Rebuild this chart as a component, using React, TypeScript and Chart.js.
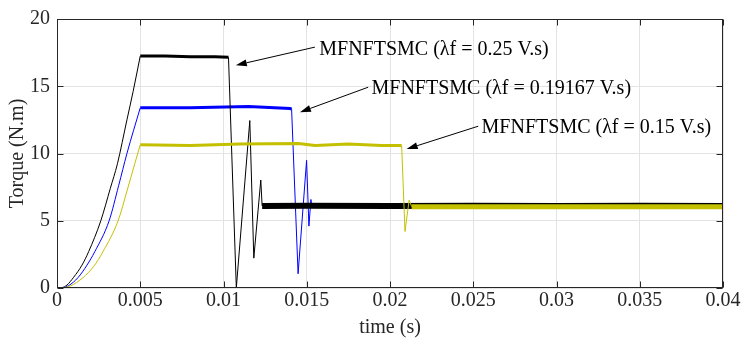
import React, { useEffect, useRef } from "react";
import { Chart, registerables } from "chart.js";

Chart.register(...registerables);

// ---- Data (time in s, torque in N.m) ----
const X_MIN = 0;
const X_MAX = 0.04;
const X_STEP = 0.005;
const Y_MIN = 0;
const Y_MAX = 20;
const Y_STEP = 5;

// start-up ramps (0 .. 0.005 s)
const BLACK_RAMP_T = [0, 0.0003, 0.0006, 0.001, 0.0015, 0.0019, 0.00263, 0.0032, 0.00363, 0.0042, 0.00457, 0.005];
const BLACK_RAMP_V = [0, 0.03, 0.22, 0.8, 1.7, 2.7, 5, 7.4, 9.24, 12.5, 14.6, 17.25];
const BLUE_RAMP_T = [0, 0.0003, 0.0007, 0.00126, 0.0018, 0.00227, 0.00313, 0.0037, 0.0042, 0.005];
const BLUE_RAMP_V = [0, 0.02, 0.18, 0.77, 1.7, 2.7, 5, 7.6, 10, 13.4];
const YELLOW_RAMP_T = [0, 0.0003, 0.0008, 0.00156, 0.0022, 0.00276, 0.00367, 0.0042, 0.00467, 0.005];
const YELLOW_RAMP_V = [0, 0.02, 0.15, 0.77, 1.6, 2.7, 5, 7.2, 9.24, 10.65];

// after the ramp (0.005 .. 0.04 s)
const BLACK_T = [0.005, 0.0065, 0.008, 0.0095, 0.0103, 0.01077, 0.01158, 0.01182, 0.01224, 0.01232, 0.015, 0.02, 0.025, 0.03, 0.035, 0.04];
const BLACK_V = [17.25, 17.25, 17.2, 17.2, 17.15, 0, 12.45, 2.22, 8.03, 6.1, 6.12, 6.1, 6.12, 6.1, 6.12, 6.1];
const BLUE_T = [0.005, 0.008, 0.0115, 0.014, 0.01409, 0.01448, 0.01499, 0.01513, 0.01525, 0.0153, 0.02, 0.03, 0.04];
const BLUE_V = [13.4, 13.4, 13.5, 13.35, 13.3, 1.06, 9.49, 4.6, 6.58, 6.1, 6.1, 6.1, 6.1];
const YELLOW_T = [0.005, 0.008, 0.011, 0.0145, 0.0155, 0.0175, 0.0195, 0.0207, 0.0209, 0.02115, 0.0213, 0.025, 0.03, 0.035, 0.04];
const YELLOW_V = [10.65, 10.6, 10.7, 10.75, 10.6, 10.7, 10.6, 10.6, 4.2, 6.53, 6.05, 6.05, 6.05, 6.05, 6.05];

const ANNOT_TEXT = [
  "MFNFTSMC (λf = 0.25 V.s)",
  "MFNFTSMC (λf = 0.19167 V.s)",
  "MFNFTSMC (λf = 0.15 V.s)",
];
const ANNOT_TEXT_AT: [number, number][] = [[0.01575, 17.72], [0.01889, 14.81], [0.0255, 11.91]];
const ARROW_TAIL: [number, number][] = [[0.01549, 17.91], [0.01869, 14.93], [0.0253, 12.03]];
const ARROW_TIP: [number, number][] = [[0.01074, 16.56], [0.01459, 13.07], [0.021, 10.33]];

// ---- Styles ----
const FONT = "'Liberation Serif', 'Times New Roman', serif";
const AXIS_COLOR = "#262626";
const GRID_COLOR = "#e3e3e3";
const BLACK = "#000000";
const BLUE = "#0000ff";
const YELLOW = "#c4c000";

const toPts = (t: number[], v: number[]) => t.map((x, i) => ({ x, y: v[i] }));

const segWidth = (highW: number, lowW: number) => (ctx: any) => {
  const p0 = ctx.p0.parsed;
  const p1 = ctx.p1.parsed;
  if (Math.abs(p1.y - p0.y) < 0.4) {
    return p0.y < 8 ? lowW : highW;
  }
  return 1;
};

const mainSet = (label: string, t: number[], v: number[], color: string, hi: number, lo: number) => ({
  label,
  data: toPts(t, v),
  borderColor: color,
  borderWidth: 1,
  pointRadius: 0,
  tension: 0,
  segment: { borderWidth: segWidth(hi, lo) },
});

const rampSet = (label: string, t: number[], v: number[], color: string) => ({
  label,
  data: toPts(t, v),
  borderColor: color,
  borderWidth: 1,
  pointRadius: 0,
  cubicInterpolationMode: "monotone",
});

const overlayPlugin = {
  id: "overlay",
  afterDraw(chart: any) {
    const { ctx, chartArea: a, scales } = chart;
    const xs = scales.x;
    const ys = scales.y;
    ctx.save();
    ctx.strokeStyle = AXIS_COLOR;
    ctx.lineWidth = 1;
    const L = Math.round(a.left) + 0.5;
    const R = Math.round(a.right) - 0.5;
    const T = Math.round(a.top) + 0.5;
    const B = Math.round(a.bottom) - 0.5;
    ctx.strokeRect(L, T, R - L, B - T);
    const TL = 6;
    ctx.beginPath();
    xs.ticks.forEach((tk: any) => {
      const px = Math.round(xs.getPixelForValue(tk.value)) + 0.5;
      ctx.moveTo(px, B);
      ctx.lineTo(px, B - TL);
      ctx.moveTo(px, T);
      ctx.lineTo(px, T + TL);
    });
    ys.ticks.forEach((tk: any) => {
      const py = Math.round(ys.getPixelForValue(tk.value)) + 0.5;
      ctx.moveTo(L, py);
      ctx.lineTo(L + TL, py);
      ctx.moveTo(R, py);
      ctx.lineTo(R - TL, py);
    });
    ctx.stroke();
    ctx.fillStyle = "#000";
    ctx.strokeStyle = "#000";
    ctx.font = `20px ${FONT}`;
    ctx.textBaseline = "middle";
    ctx.textAlign = "left";
    ANNOT_TEXT.forEach((txt, i) => {
      const tx = xs.getPixelForValue(ANNOT_TEXT_AT[i][0]);
      const ty = ys.getPixelForValue(ANNOT_TEXT_AT[i][1]);
      ctx.fillText(txt, tx, ty);
      const x0 = xs.getPixelForValue(ARROW_TAIL[i][0]);
      const y0 = ys.getPixelForValue(ARROW_TAIL[i][1]);
      const x1 = xs.getPixelForValue(ARROW_TIP[i][0]);
      const y1 = ys.getPixelForValue(ARROW_TIP[i][1]);
      const ang = Math.atan2(y1 - y0, x1 - x0);
      const hl = 11;
      const hw = 3.5;
      const bx = x1 - hl * Math.cos(ang);
      const by = y1 - hl * Math.sin(ang);
      ctx.lineWidth = 1;
      ctx.beginPath();
      ctx.moveTo(x0, y0);
      ctx.lineTo(bx, by);
      ctx.stroke();
      ctx.beginPath();
      ctx.moveTo(x1, y1);
      ctx.lineTo(bx + hw * Math.sin(ang), by - hw * Math.cos(ang));
      ctx.lineTo(bx - hw * Math.sin(ang), by + hw * Math.cos(ang));
      ctx.closePath();
      ctx.fill();
    });
    ctx.restore();
  },
};

export default function App() {
  const ref = useRef<HTMLCanvasElement | null>(null);

  useEffect(() => {
    if (!ref.current) return;
    const chart = new Chart(ref.current, {
      type: "line",
      data: {
        datasets: [
          mainSet("λf = 0.15 V.s", YELLOW_T, YELLOW_V, YELLOW, 3, 5),
          mainSet("λf = 0.25 V.s", BLACK_T, BLACK_V, BLACK, 3, 6),
          mainSet("λf = 0.19167 V.s", BLUE_T, BLUE_V, BLUE, 3, 4),
          rampSet("λf = 0.15 V.s ramp", YELLOW_RAMP_T, YELLOW_RAMP_V, YELLOW),
          rampSet("λf = 0.19167 V.s ramp", BLUE_RAMP_T, BLUE_RAMP_V, BLUE),
          rampSet("λf = 0.25 V.s ramp", BLACK_RAMP_T, BLACK_RAMP_V, BLACK),
        ],
      },
      options: {
        animation: false,
        responsive: false,
        maintainAspectRatio: false,
        layout: { padding: { top: 12, right: 21, left: 0, bottom: 0 } },
        plugins: {
          legend: { display: false },
          tooltip: { enabled: false },
        },
        scales: {
          x: {
            type: "linear",
            min: X_MIN,
            max: X_MAX,
            afterFit: (s: any) => {
              s.height = 55;
            },
            ticks: {
              stepSize: X_STEP,
              maxRotation: 0,
              autoSkip: false,
              padding: 1,
              color: AXIS_COLOR,
              font: { family: FONT, size: 20 },
              callback: (v: any) => String(+Number(v).toFixed(3)),
            },
            grid: { color: GRID_COLOR, drawTicks: false },
            border: { display: false },
            title: {
              display: true,
              text: "time (s)",
              color: AXIS_COLOR,
              font: { family: FONT, size: 20 },
              padding: { top: 0, bottom: 3 },
            },
          },
          y: {
            type: "linear",
            min: Y_MIN,
            max: Y_MAX,
            afterFit: (s: any) => {
              s.width = 57;
            },
            ticks: {
              stepSize: Y_STEP,
              padding: 7,
              color: AXIS_COLOR,
              font: { family: FONT, size: 20 },
            },
            grid: { color: GRID_COLOR, drawTicks: false },
            border: { display: false },
            title: {
              display: true,
              text: "Torque (N.m)",
              color: AXIS_COLOR,
              font: { family: FONT, size: 20 },
              padding: { top: 6, bottom: 0 },
            },
          },
        },
      },
      plugins: [overlayPlugin],
    } as any);
    return () => chart.destroy();
  }, []);

  return (
    <div style={{ position: "absolute", left: 0, top: 0, width: 744, height: 343, background: "#fff" }}>
      <canvas ref={ref} width={744} height={343} style={{ width: 744, height: 343, display: "block" }} />
    </div>
  );
}
